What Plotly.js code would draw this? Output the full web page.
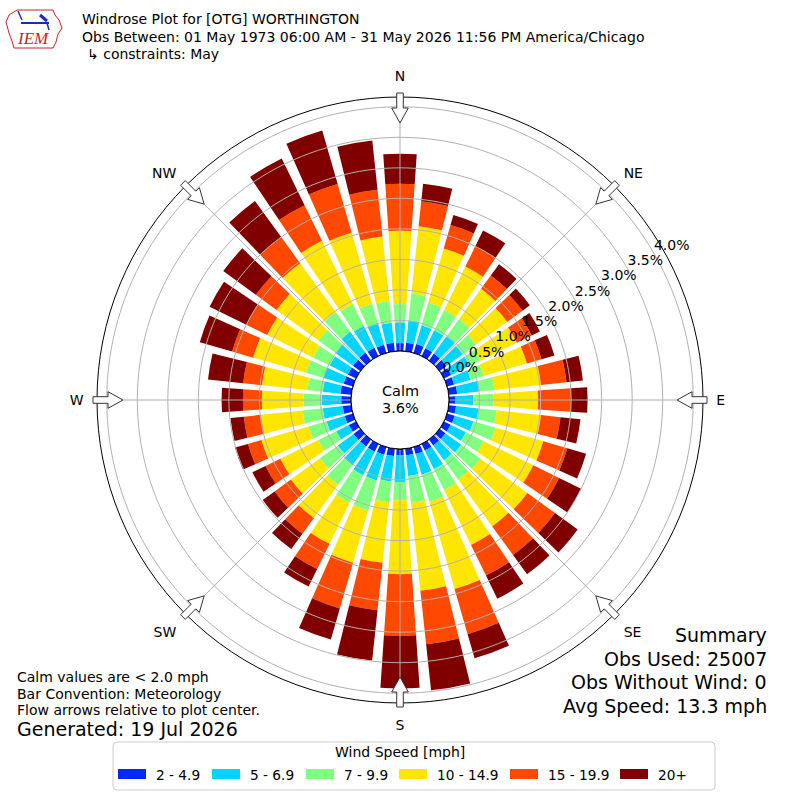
<!DOCTYPE html>
<html><head><meta charset="utf-8">
<script src="https://cdn.plot.ly/plotly-3.0.1.min.js"></script>
<style>body{margin:0;background:#fff}#chart{width:800px;height:800px}</style>
</head><body><div id="chart"></div>
<script>
// ---- DATA ----
const directions = [0,10,20,30,40,50,60,70,80,90,100,110,120,130,140,150,160,170,180,190,200,210,220,230,240,250,260,270,280,290,300,310,320,330,340,350];
const compassLabels = ["N","NE","E","SE","S","SW","W","NW"];
const compassAngles = [0,45,90,135,180,225,270,315];
const speedBins = ["2 - 4.9","5 - 6.9","7 - 9.9","10 - 14.9","15 - 19.9","20+"];
const binColors = ["#0028ff","#00d4ff","#80ff80","#ffe600","#ff4800","#800000"];
// percent of observations per direction for each speed bin
const bin2to5   = [0.13,0.14,0.15,0.14,0.14,0.14,0.13,0.12,0.14,0.10,0.12,0.13,0.12,0.12,0.12,0.12,0.12,0.11,0.10,0.12,0.13,0.14,0.14,0.14,0.13,0.14,0.14,0.16,0.18,0.16,0.15,0.15,0.16,0.15,0.14,0.14];
const bin5to7   = [0.34,0.37,0.32,0.33,0.35,0.33,0.34,0.28,0.36,0.30,0.37,0.32,0.28,0.32,0.30,0.34,0.35,0.34,0.44,0.42,0.44,0.43,0.38,0.32,0.23,0.31,0.33,0.32,0.29,0.34,0.33,0.35,0.42,0.40,0.36,0.33];
const bin7to10  = [0.30,0.44,0.39,0.37,0.35,0.27,0.19,0.22,0.25,0.33,0.30,0.38,0.32,0.39,0.39,0.38,0.46,0.44,0.30,0.34,0.51,0.50,0.40,0.36,0.33,0.31,0.33,0.30,0.25,0.30,0.30,0.35,0.40,0.40,0.34,0.36];
const bin10to15 = [1.20,1.11,0.92,0.79,0.61,0.63,0.67,0.74,0.77,0.73,0.73,0.81,0.91,0.95,0.95,1.00,1.49,1.45,1.21,1.00,0.89,0.75,0.67,0.59,0.69,0.80,0.69,0.68,0.75,0.90,0.84,0.85,0.99,1.15,1.21,1.06];
const bin15to20 = [0.77,0.41,0.40,0.37,0.27,0.31,0.27,0.25,0.42,0.54,0.32,0.41,0.47,0.56,0.58,0.56,0.77,0.88,1.01,0.78,0.78,0.46,0.32,0.33,0.27,0.23,0.28,0.31,0.31,0.36,0.38,0.42,0.53,0.65,0.83,0.77];
const bin20plus = [0.49,0.29,0.17,0.29,0.23,0.15,0.15,0.22,0.27,0.27,0.33,0.32,0.40,0.46,0.39,0.42,0.41,0.76,0.86,0.83,0.53,0.32,0.31,0.24,0.24,0.22,0.22,0.35,0.58,0.55,0.67,0.66,0.73,0.85,0.91,0.81];
const radialTicks = [0,0.5,1,1.5,2,2.5,3,3.5,4];
const radialTickText = ["0.0%","0.5%","1.0%","1.5%","2.0%","2.5%","3.0%","3.5%","4.0%"];
const calmPct = "3.6%";
const titleLines = ["Windrose Plot for [OTG] WORTHINGTON","Obs Between: 01 May 1973 06:00 AM - 31 May 2026 11:56 PM America/Chicago","\u21b3 constraints: May"];
const noteLines = ["Calm values are < 2.0 mph","Bar Convention: Meteorology","Flow arrows relative to plot center."];
const generatedText = "Generated: 19 Jul 2026";
const summaryLines = ["Summary","Obs Used: 25007","Obs Without Wind: 0","Avg Speed: 13.3 mph"];
const legendTitle = "Wind Speed [mph]";

// ---- LAYOUT HELPERS ----
const W = 800, H = 800;
const FONT = "DejaVu Sans, Liberation Sans, sans-serif";
const px = x => x / W;
const py = y => 1 - y / H;
const CX = 400, CY = 400, ROUT = 303;
const RMAX = 4.16;
const LABEL_THETA = 60;
const binSeries = [bin2to5, bin5to7, bin7to10, bin10to15, bin15to20, bin20plus];

const traces = [];
binSeries.forEach((vals, i) => {
  traces.push({
    type: 'barpolar', r: vals, theta: directions, width: 7.8,
    name: speedBins[i], marker: {color: binColors[i], line: {width: 0}},
    hoverinfo: 'skip', showlegend: false
  });
});
// gridlines drawn above bars
const circTheta = [];
for (let a = 0; a <= 360; a += 2) circTheta.push(a);
radialTicks.slice(1).forEach(rv => {
  traces.push({type: 'scatterpolar', mode: 'lines', r: circTheta.map(() => rv), theta: circTheta,
    line: {color: '#b0b0b0', width: 1}, hoverinfo: 'skip', showlegend: false});
});
compassAngles.forEach(a => {
  traces.push({type: 'scatterpolar', mode: 'lines', r: [0, RMAX], theta: [a, a],
    line: {color: '#b0b0b0', width: 1}, hoverinfo: 'skip', showlegend: false});
});
// calm circle edge
traces.push({type: 'scatterpolar', mode: 'lines', r: circTheta.map(() => 0), theta: circTheta,
  line: {color: '#000', width: 1}, hoverinfo: 'skip', showlegend: false});
// radial tick labels along the label direction
traces.push({type: 'scatterpolar', mode: 'text', r: radialTicks, theta: radialTicks.map(() => LABEL_THETA),
  text: radialTickText, textposition: 'top right', textfont: {family: FONT, size: 14, color: '#000'},
  hoverinfo: 'skip', showlegend: false, cliponaxis: false});

const shapes = [];
const annotations = [];
function toPaper(r, angDeg, off) {
  const a = angDeg * Math.PI / 180;
  const ux = Math.sin(a), uy = -Math.cos(a);
  const nx = -uy, ny = ux;
  const X = CX + ux * r + nx * off, Y = CY + uy * r + ny * off;
  return px(X).toFixed(5) + ',' + py(Y).toFixed(5);
}
// flow arrows at compass points, pointing to center
compassAngles.forEach(a => {
  const pts = [[307,-3.3],[292,-3.3],[292,-8.3],[277,0],[292,8.3],[292,3.3],[307,3.3]];
  const path = 'M ' + pts.map(p => toPaper(p[0], a, p[1])).join(' L ') + ' Z';
  shapes.push({type: 'path', xref: 'paper', yref: 'paper', path: path,
    fillcolor: '#fff', line: {color: '#333', width: 1}, layer: 'above'});
});
function note(text, x, y, size, anchor, color, family) {
  annotations.push({text: text, xref: 'paper', yref: 'paper', x: px(x), y: py(y),
    xanchor: anchor, yanchor: 'middle', showarrow: false,
    font: {family: family || FONT, size: size, color: color || '#000'}});
}
titleLines.forEach((t, i) => note(t, i === 2 ? 85 : 80, 19 + i * 17.5, 14, 'left'));
noteLines.forEach((t, i) => note(t, 15, 677 + i * 16.5, 14, 'left'));
note(generatedText, 15, 729, 19, 'left');
summaryLines.forEach((t, i) => note(t, 769, 635 + i * 23.5, 19, 'right'));
note('Calm', 400, 391, 14.5, 'center');
note(calmPct, 400, 408, 14.5, 'center');
// legend box
const lx0 = 113, lx1 = 715, ly0 = 742, ly1 = 790, rr = 4;
shapes.push({type: 'path', xref: 'paper', yref: 'paper', layer: 'above',
  path: `M ${px(lx0+rr)},${py(ly0)} L ${px(lx1-rr)},${py(ly0)} Q ${px(lx1)},${py(ly0)} ${px(lx1)},${py(ly0+rr)} L ${px(lx1)},${py(ly1-rr)} Q ${px(lx1)},${py(ly1)} ${px(lx1-rr)},${py(ly1)} L ${px(lx0+rr)},${py(ly1)} Q ${px(lx0)},${py(ly1)} ${px(lx0)},${py(ly1-rr)} L ${px(lx0)},${py(ly0+rr)} Q ${px(lx0)},${py(ly0)} ${px(lx0+rr)},${py(ly0)} Z`,
  fillcolor: 'rgba(255,255,255,0.8)', line: {color: '#cccccc', width: 1}});
note(legendTitle, 400, 752, 14, 'center');
const legendX = [118, 212, 306, 399, 510, 620];
speedBins.forEach((lab, i) => {
  const x0 = legendX[i];
  shapes.push({type: 'rect', xref: 'paper', yref: 'paper', layer: 'above',
    x0: px(x0), x1: px(x0 + 28), y0: py(779), y1: py(769), fillcolor: binColors[i], line: {width: 0}});
  note(lab, x0 + 36, 774.5, 13.7, 'left');
});
// IEM logo approximation
shapes.push({type: 'path', xref: 'paper', yref: 'paper', layer: 'above',
  path: 'M ' + [[17,10],[53,10],[55,15],[59,20],[62,28],[58,34],[56,42],[53,48],[14,48],[12,41],[9,33],[6,22],[9,15]].map(p => px(p[0]) + ',' + py(p[1])).join(' L ') + ' Z',
  fillcolor: 'rgba(0,0,0,0)', line: {color: '#d02020', width: 1}});
shapes.push({type: 'line', xref: 'paper', yref: 'paper', layer: 'above',
  x0: px(21), y0: py(23), x1: px(49), y1: py(23), line: {color: '#1030c0', width: 2}});
shapes.push({type: 'line', xref: 'paper', yref: 'paper', layer: 'above',
  x0: px(40), y0: py(15), x1: px(47), y1: py(21), line: {color: '#1030c0', width: 3}});
shapes.push({type: 'line', xref: 'paper', yref: 'paper', layer: 'above',
  x0: px(18), y0: py(11), x1: px(22), y1: py(20), line: {color: '#1030c0', width: 1.5}});
shapes.push({type: 'line', xref: 'paper', yref: 'paper', layer: 'above',
  x0: px(47), y0: py(23), x1: px(49), y1: py(30), line: {color: '#1030c0', width: 1.5}});
note('<i>IEM</i>', 33, 39, 17, 'center', '#d02020', 'Liberation Serif, serif');

const layout = {
  width: W, height: H, margin: {l: 0, r: 0, t: 0, b: 0},
  paper_bgcolor: '#fff', showlegend: false,
  polar: {
    domain: {x: [px(CX - ROUT), px(CX + ROUT)], y: [1 - (CY + ROUT) / H, 1 - (CY - ROUT) / H]},
    hole: 49 / ROUT, bgcolor: 'rgba(0,0,0,0)', barmode: 'stack',
    radialaxis: {range: [0, RMAX], showticklabels: false, tickvals: radialTicks,
      showgrid: false, showline: false, ticks: ''},
    angularaxis: {rotation: 90, direction: 'clockwise', tickvals: compassAngles, ticktext: compassLabels,
      showgrid: false, showline: true, linecolor: '#000', linewidth: 1,
      ticks: 'outside', ticklen: 10, tickcolor: 'rgba(0,0,0,0)',
      tickfont: {family: FONT, size: 14, color: '#000'}}
  },
  shapes: shapes, annotations: annotations
};
Plotly.newPlot('chart', traces, layout, {staticPlot: true});
</script></body></html>
